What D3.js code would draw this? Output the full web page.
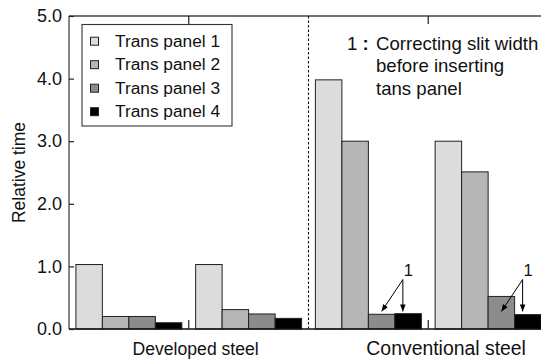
<!DOCTYPE html>
<html>
<head>
<meta charset="utf-8">
<script src="https://cdn.jsdelivr.net/npm/d3@7/dist/d3.min.js"></script>
<style>
  html, body { margin: 0; padding: 0; background: #fff; }
  svg { display: block; font-family: "Liberation Sans", Arial, sans-serif; }
</style>
</head>
<body>
<svg id="chart" width="541" height="360"></svg>
<script>
// ---- data ----
const sections = ["Developed steel", "Conventional steel"];
const groups = ["D1", "D2", "C1", "C2"];
const groupSection = ["Developed steel", "Developed steel", "Conventional steel", "Conventional steel"];
const series = ["Trans panel 1", "Trans panel 2", "Trans panel 3", "Trans panel 4"];
const panel1 = [1.03, 1.03, 3.98, 3.00];
const panel2 = [0.20, 0.31, 3.00, 2.51];
const panel3 = [0.20, 0.24, 0.235, 0.52];
const panel4 = [0.10, 0.17, 0.245, 0.23];
const yTicks = [0, 1, 2, 3, 4, 5];
const annotatedGroups = ["C1", "C2"];
const noteMark = "1";
const noteLines = ["Correcting slit width", "before inserting", "tans panel"];
const colors = ["#dcdcdc", "#b6b6b6", "#8c8c8c", "#000000"];

(function () {
const values = [panel1, panel2, panel3, panel4];
const table = groups.map((g, gi) => ({ group: g, vals: series.map((s, si) => ({ series: s, si, value: values[si][gi] })) }));

// ---- layout ----
const svg = d3.select("#chart");
const pLeft = 69, pRight = 548, pTop = 16, pBottom = 329;

const x0 = d3.scaleBand().domain(groups).range([pLeft, pRight]).paddingInner(0.115).paddingOuter(0.0575);
const x1 = d3.scaleBand().domain(series).range([0, x0.bandwidth()]).padding(0);
const y = d3.scaleLinear().domain([0, 5]).range([pBottom, pTop]);
const color = d3.scaleOrdinal().domain(series).range(colors);
const step = x0.step();
const slotStart = g => x0(g) - x0.paddingOuter() * step;

svg.append("defs").append("marker")
  .attr("id", "arr").attr("viewBox", "0 0 10 10").attr("refX", 10).attr("refY", 5)
  .attr("markerWidth", 7).attr("markerHeight", 7).attr("markerUnits", "userSpaceOnUse")
  .attr("orient", "auto")
  .append("path").attr("d", "M0,1 L10,5 L0,9 Z").attr("fill", "#000");

// bars
const gG = svg.append("g").selectAll("g").data(table).join("g")
  .attr("transform", d => `translate(${x0(d.group)},0)`);
gG.selectAll("rect").data(d => d.vals).join("rect")
  .attr("x", d => x1(d.series))
  .attr("y", d => y(d.value))
  .attr("width", x1.bandwidth())
  .attr("height", d => y(0) - y(d.value))
  .attr("fill", d => color(d.series))
  .attr("stroke", "#222").attr("stroke-width", 1);

// frame: left axis, top line, baseline
svg.append("line").attr("x1", pLeft).attr("x2", pLeft).attr("y1", pTop).attr("y2", pBottom)
  .attr("stroke", "#444").attr("stroke-width", 1.3);
svg.append("line").attr("x1", pLeft).attr("x2", pRight).attr("y1", pTop).attr("y2", pTop)
  .attr("stroke", "#444").attr("stroke-width", 1.3);
svg.append("line").attr("x1", pLeft).attr("x2", pRight).attr("y1", pBottom).attr("y2", pBottom)
  .attr("stroke", "#111").attr("stroke-width", 1.3);

// y axis
const yAxis = d3.axisLeft(y).tickValues(yTicks).tickFormat(d3.format(".1f")).tickSizeInner(-5).tickSizeOuter(0).tickPadding(7);
const ya = svg.append("g").attr("transform", `translate(${pLeft},0)`).call(yAxis);
ya.select(".domain").remove();
ya.selectAll(".tick line").attr("stroke", "#222").attr("stroke-width", 1.2);
ya.selectAll(".tick text").attr("font-size", 18).attr("fill", "#111")
  .attr("font-family", "'Liberation Sans', Arial, sans-serif").attr("x", -7);

// y title
svg.append("text").attr("transform", `translate(25,${(pTop + pBottom) / 2}) rotate(-90)`)
  .attr("text-anchor", "middle").attr("font-size", 17.5).attr("fill", "#111").text("Relative time");

// group separator ticks (top and bottom), dashed section divider
const dividers = groups.slice(1).map((g, i) => ({ g, x: slotStart(g), section: groupSection[i + 1] !== groupSection[i] }));
dividers.filter(d => !d.section).forEach(d => {
  svg.append("line").attr("x1", d.x).attr("x2", d.x).attr("y1", pTop).attr("y2", pTop + 8).attr("stroke", "#222").attr("stroke-width", 1.2);
  svg.append("line").attr("x1", d.x).attr("x2", d.x).attr("y1", pBottom - 9).attr("y2", pBottom).attr("stroke", "#222").attr("stroke-width", 1.2);
});
dividers.filter(d => d.section).forEach(d => {
  svg.append("line").attr("x1", d.x).attr("x2", d.x).attr("y1", pTop).attr("y2", pBottom)
    .attr("stroke", "#111").attr("stroke-width", 1.1).attr("stroke-dasharray", "2.5,2");
});

// section labels
const devX = x0("D2");
const convX = x0("C2") + 11;
svg.append("text").attr("x", devX).attr("y", 355).attr("text-anchor", "middle")
  .attr("font-size", 17.6).attr("fill", "#111").text(sections[0]);
svg.append("text").attr("x", convX).attr("y", 355).attr("text-anchor", "middle")
  .attr("font-size", 19.4).attr("fill", "#111").text(sections[1]);

// legend
const lg = svg.append("g");
lg.append("rect").attr("x", 82).attr("y", 24.5).attr("width", 150).attr("height", 101.5)
  .attr("fill", "#fff").attr("stroke", "#333").attr("stroke-width", 1.1);
series.forEach((s, i) => {
  const by = 46.7 + i * 23.5;
  lg.append("rect").attr("x", 90.5).attr("y", by - 9.5).attr("width", 8).attr("height", 8)
    .attr("fill", color(s)).attr("stroke", "#222").attr("stroke-width", 1);
  lg.append("text").attr("x", 115).attr("y", by).attr("font-size", 17.3).attr("fill", "#111").text(s);
});

// note text
const note = svg.append("text").attr("font-size", 18.6).attr("fill", "#111");
note.append("tspan").attr("x", 347).attr("y", 49.5).text(noteMark + " ");
note.append("tspan").attr("font-weight", "bold").text(":");
noteLines.forEach((t, i) => {
  svg.append("text").attr("x", 376).attr("y", 49.5 + i * 22.8).attr("font-size", 18.6).attr("fill", "#111").text(t);
});

// arrows with "1"
annotatedGroups.forEach(g => {
  const gx = x0(g);
  const sx = gx + x1(series[3]) + 8;
  const sy = y(0.79);
  const ey = y(0.28);
  const tx = gx + x1(series[2]) + x1.bandwidth() / 2;
  svg.append("text").attr("x", sx + 5.5).attr("y", 275.5).attr("text-anchor", "middle")
    .attr("font-size", 16.5).attr("fill", "#111").text(noteMark);
  svg.append("line").attr("x1", sx).attr("y1", sy).attr("x2", tx).attr("y2", ey)
    .attr("stroke", "#000").attr("stroke-width", 1).attr("marker-end", "url(#arr)");
  svg.append("line").attr("x1", sx).attr("y1", sy).attr("x2", sx).attr("y2", ey)
    .attr("stroke", "#000").attr("stroke-width", 1).attr("marker-end", "url(#arr)");
});
})();
</script>
</body>
</html>
